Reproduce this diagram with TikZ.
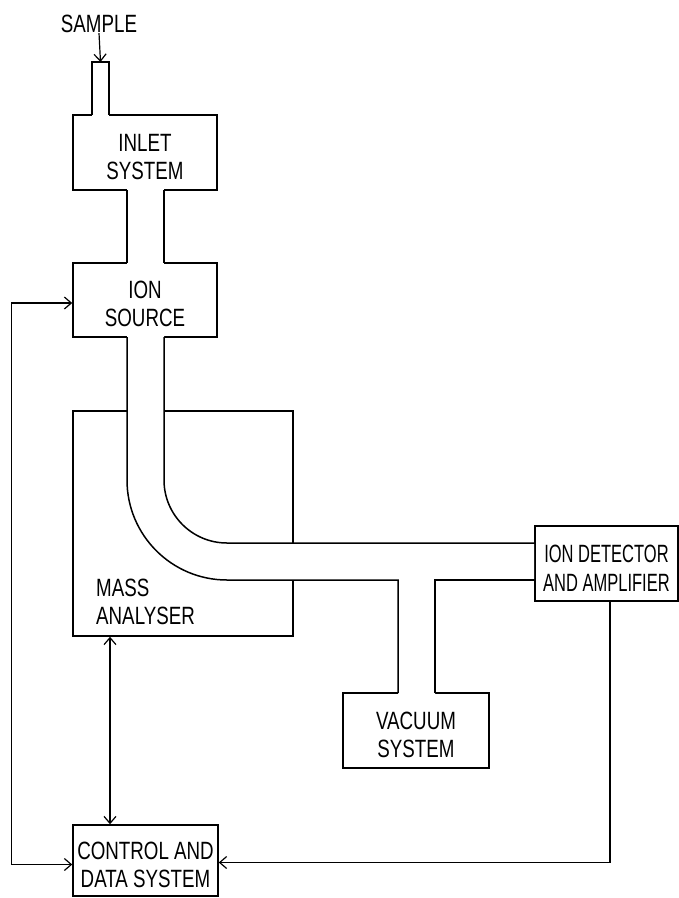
\documentclass[tikz,border=0pt]{standalone}
\usepackage{fontspec}
\setmainfont{Liberation Sans}[FakeStretch=0.75]
\newfontfamily\narrowfont{Liberation Sans}[FakeStretch=0.66]
\usetikzlibrary{arrows.meta}
\newcommand\lowr{\rule{0pt}{26pt}}
\begin{document}
\begin{tikzpicture}[x=1pt,y=-1pt,
  >={Straight Barb[length=7pt,width=12pt]},
  lbl/.style={inner sep=0pt, font=\fontsize{25}{28}\selectfont},
  box/.style={draw, line width=1.5pt, inner sep=0pt, align=center, font=\fontsize{25}{28}\selectfont},
  pipe/.style={line width=1.5pt},
  pipefill/.style={fill=white, draw=none},
  link/.style={line width=1.2pt}]
\useasboundingbox (0,0) rectangle (679,898);
\fill[white] (0,0) rectangle (679,898);

% boxes
\node[box, minimum width=144pt, minimum height=75pt] (inlet) at (145,152.5) {\lowr INLET\\SYSTEM};
\node[box, minimum width=144pt, minimum height=74pt] (source) at (145,300) {\lowr ION\\SOURCE};
\node[box, minimum width=220pt, minimum height=225pt] (analyser) at (183,523.5) {};
\node[lbl, anchor=west, align=left] (analyserlabel) at (96,602) {MASS\\ANALYSER};
\node[box, minimum width=143pt, minimum height=75pt, font=\narrowfont\fontsize{25}{29}\selectfont] (detector) at (606.5,563.5) {\lowr ION DETECTOR\\AND AMPLIFIER};
\node[box, minimum width=146pt, minimum height=75pt] (vacuum) at (416,730.5) {\lowr VACUUM\\SYSTEM};
\node[box, minimum width=145pt, minimum height=71pt] (control) at (145.5,860.5) {\lowr CONTROL AND\\DATA SYSTEM};
\node[lbl] (sample) at (99,24) {SAMPLE};

% sample inlet tube
\fill[pipefill] (92,62) rectangle (109,117);
\draw[pipe] (92,115) -- (92,62) -- (109,62) -- (109,115);
\coordinate (stube) at (100.5,62);
\draw[link,->] (sample.south) -- (stube);

% inlet to source tube
\fill[pipefill] (127,188) rectangle (164,265);
\draw[pipe] (127,190) -- (127,263);
\draw[pipe] (164,190) -- (164,263);

% source -> analyser -> detector tube with vacuum branch
\fill[pipefill] (127,335) -- (127,480) arc[start angle=180, end angle=270, radius=100pt]
  -- (398,580) -- (398,695) -- (435,695) -- (435,580) -- (534.2,580) -- (534.2,543)
  -- (227,543) arc[start angle=270, end angle=180, radius=63pt] -- (164,335) -- cycle;
\draw[pipe] (127,337) -- (127,480) arc[start angle=180, end angle=270, radius=100pt]
  -- (398,580) -- (398,693);
\draw[pipe] (435,693) -- (435,580) -- (535,580);
\draw[pipe] (164,337) -- (164,480) arc[start angle=180, end angle=270, radius=63pt]
  -- (535,543);

% control connections
\coordinate (ax) at (110,0);
\coordinate (dx) at (610,0);
\draw[link,<->] ([yshift=-3pt]source.west) -- ++(-61,0) |- ([yshift=-4pt]control.west);
\draw[link,<->] (analyser.south -| ax) -- (control.north -| ax);
\draw[link,->] (detector.south -| dx) |- ([yshift=-2pt]control.east);
\end{tikzpicture}
\end{document}
